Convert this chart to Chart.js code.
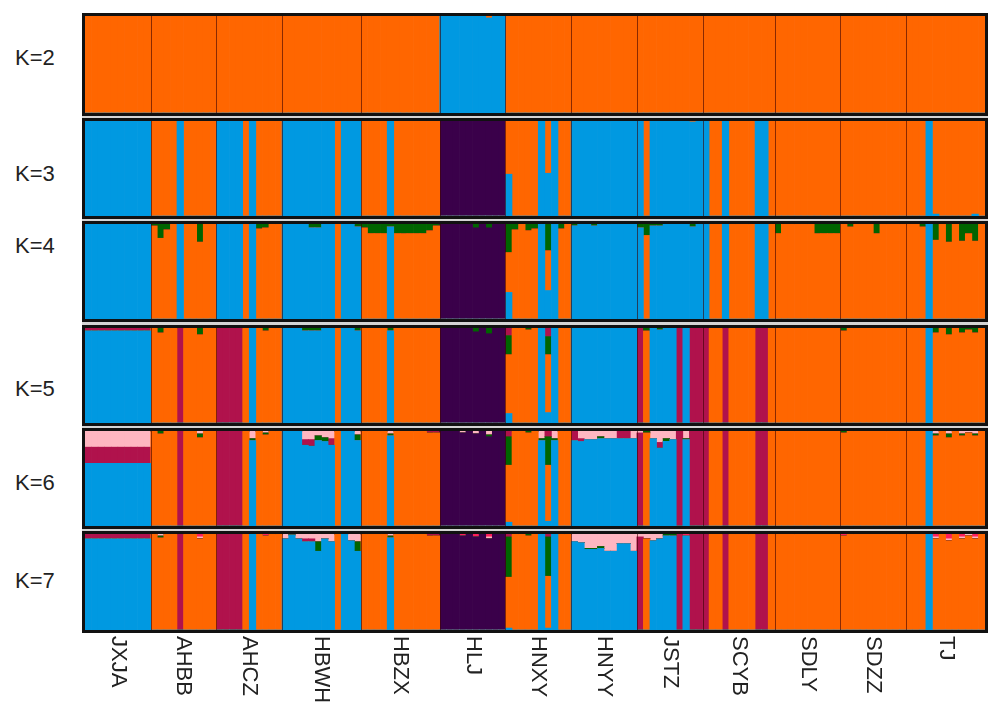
<!DOCTYPE html>
<html>
<head>
<meta charset="utf-8">
<script src="https://cdn.jsdelivr.net/npm/chart.js@4.4.0/dist/chart.umd.min.js"></script>
<style>
  html, body { margin: 0; padding: 0; background: #fff; }
  body { width: 997px; height: 716px; position: relative; overflow: hidden; font-family: 'Liberation Sans', Arial, sans-serif; }
  #backdrop { position: absolute; left: 82px; top: 13px; width: 906px; height: 620px; background: #d4d4d4; }
  .panel { position: absolute; left: 82px; width: 906px; }
  .klabel { position: absolute; left: 15px; font-size: 22px; line-height: 26px; color: #222; }
</style>
</head>
<body>
<div id="backdrop"></div>
<script>
// populations (left to right) and number of individuals in each
const popNames = ['JXJA', 'AHBB', 'AHCZ', 'HBWH', 'HBZX', 'HLJ', 'HNXY', 'HNYY', 'JSTZ', 'SCYB', 'SDLY', 'SDZZ', 'TJ'];
const popSizes = [10, 10, 10, 12, 12, 10, 10, 10, 10, 11, 10, 10, 12];

// cluster codes, bottom to top of each bar
const clusterOrder = ['B', 'O', 'P', 'G', 'C', 'L', 'R'];
const clusterColors = {
    B: '#0099e1', O: '#ff6600', P: '#3a004a', G: '#006400',
    C: '#b0124c', L: '#ffb6c1', R: '#ff1f5a'
};

// main cluster of every individual, one string per population
const k2Major = ['OOOOOOOOOO', 'OOOOOOOOOO', 'OOOOOOOOOO', 'OOOOOOOOOOOO', 'OOOOOOOOOOOO', 'BBBBBBBBBB',
    'OOOOOOOOOO', 'OOOOOOOOOO', 'OOOOOOOOOO', 'OOOOOOOOOOO', 'OOOOOOOOOO', 'OOOOOOOOOO', 'OOOOOOOOOOOO'];
const k3Major = ['BBBBBBBBBB', 'OOOOBOOOOO', 'BBBBOBOOOO', 'BBBBBBBBOBBB', 'OOOOBOOOOOOO', 'PPPPPPPPPP',
    'OOOOOBOBOO', 'BBBBBBBBBB', 'BOBBBBBBBB', 'BOOBOOOOBBO', 'OOOOOOOOOO', 'OOOOOOOOOO', 'OOOBOOOOOOOO'];
const k4Major = ['BBBBBBBBBB', 'OOOOBOOOOO', 'BBBBOBOOOO', 'BBBBBBBBOBBB', 'OOOOBOOOOOOO', 'PPPPPPPPPP',
    'OOOOOBOBOO', 'BBBBBBBBBB', 'BOBBBBBBBB', 'BOOBOOOOBBO', 'OOOOOOOOOO', 'OOOOOOOOOO', 'OOOBOOOOOOOO'];
const k5Major = ['BBBBBBBBBB', 'OOOOCOOOOO', 'CCCCOBOOOO', 'BBBBBBBBOBBB', 'OOOOBOOOOOOO', 'PPPPPPPPPP',
    'OOOOOBOBOO', 'BBBBBBBBBB', 'COBBBBCBCC', 'COOCOOOOCCO', 'OOOOOOOOOO', 'OOOOOOOOOO', 'OOOBOOOOOOOO'];
const k6Major = ['BBBBBBBBBB', 'OOOOCOOOOO', 'CCCCOBOOOO', 'BBBBBBBBOBBB', 'OOOOBOOOOOOO', 'PPPPPPPPPP',
    'OOOOOBOBOO', 'BBBBBBBBBB', 'COBBBBCBCC', 'COOCOOOOCCO', 'OOOOOOOOOO', 'OOOOOOOOOO', 'OOOBOOOOOOOO'];
const k7Major = ['BBBBBBBBBB', 'OOOOCOOOOO', 'CCCCOBOOOO', 'BBBBBBBBOBBB', 'OOOOBOOOOOOO', 'PPPPPPPPPP',
    'OOOOOBOBOO', 'BBBBBBBBBB', 'COBBBBCBCC', 'COOCOOOOCCO', 'OOOOOOOOOO', 'OOOOOOOOOO', 'OOOBOOOOOOOO'];

// admixture: [first individual, last individual, cluster, share]
const k2Mix = [[61, 61, 'O', 0.02]];
const k3Mix = [[64, 64, 'B', 0.44], [70, 70, 'B', 0.45], [92, 92, 'O', 0.01], [129, 129, 'B', 0.02], [135, 135, 'B', 0.02]];
const k4Mix = [
    [10, 10, 'G', 0.02], [11, 11, 'G', 0.15], [12, 12, 'G', 0.06], [17, 17, 'G', 0.19],
    [26, 26, 'G', 0.05], [27, 27, 'G', 0.04], [34, 35, 'G', 0.04], [41, 41, 'G', 0.03],
    [42, 42, 'G', 0.04], [43, 45, 'G', 0.1], [46, 46, 'G', 0.03], [47, 51, 'G', 0.1], [52, 52, 'G', 0.07], [53, 53, 'G', 0.02],
    [59, 59, 'G', 0.04], [61, 61, 'G', 0.04],
    [64, 64, 'G', 0.3], [64, 64, 'B', 0.28], [65, 65, 'G', 0.06], [67, 67, 'G', 0.07], [68, 68, 'G', 0.05],
    [70, 70, 'G', 0.28], [70, 70, 'B', 0.3], [72, 72, 'G', 0.05],
    [74, 74, 'G', 0.02], [77, 77, 'G', 0.02],
    [84, 84, 'G', 0.04], [85, 85, 'G', 0.12], [86, 87, 'G', 0.02], [92, 92, 'G', 0.03],
    [105, 105, 'G', 0.1], [111, 114, 'G', 0.1], [116, 116, 'G', 0.03], [120, 120, 'G', 0.1],
    [127, 127, 'G', 0.03], [129, 129, 'G', 0.17], [131, 131, 'G', 0.19], [133, 133, 'G', 0.18], [134, 134, 'G', 0.1], [135, 135, 'G', 0.18]
];
const k5Mix = [
    [0, 9, 'C', 0.03], [11, 11, 'G', 0.05], [17, 17, 'G', 0.07], [27, 27, 'G', 0.03],
    [33, 35, 'G', 0.03], [41, 41, 'G', 0.03], [46, 46, 'G', 0.03], [59, 59, 'G', 0.04], [61, 61, 'G', 0.06],
    [64, 64, 'C', 0.08], [64, 64, 'G', 0.2], [64, 64, 'B', 0.1], [67, 67, 'G', 0.02],
    [70, 70, 'C', 0.09], [70, 70, 'G', 0.19], [70, 70, 'B', 0.11],
    [85, 85, 'G', 0.03], [87, 87, 'G', 0.02], [115, 115, 'G', 0.03],
    [129, 129, 'G', 0.05], [131, 131, 'G', 0.07], [133, 133, 'G', 0.05], [134, 134, 'G', 0.02], [135, 135, 'G', 0.05]
];
const k6Mix = [
    [0, 9, 'L', 0.17], [0, 9, 'C', 0.17],
    [11, 11, 'G', 0.03], [17, 17, 'L', 0.03], [17, 17, 'G', 0.04],
    [25, 25, 'L', 0.08], [25, 25, 'G', 0.02], [27, 27, 'L', 0.02], [27, 27, 'G', 0.02],
    [33, 33, 'L', 0.09], [33, 33, 'C', 0.06], [34, 34, 'L', 0.09], [34, 34, 'C', 0.07],
    [35, 35, 'L', 0.05], [35, 35, 'G', 0.05], [36, 36, 'L', 0.07], [36, 36, 'G', 0.04],
    [37, 37, 'L', 0.08], [37, 37, 'C', 0.07], [41, 41, 'L', 0.04], [41, 41, 'G', 0.06],
    [46, 46, 'L', 0.03], [46, 46, 'G', 0.02], [52, 53, 'C', 0.02],
    [57, 57, 'L', 0.02], [59, 59, 'L', 0.03], [61, 61, 'L', 0.04], [61, 61, 'G', 0.02],
    [64, 64, 'C', 0.06], [64, 64, 'G', 0.3], [64, 64, 'B', 0.04], [67, 67, 'G', 0.02],
    [69, 69, 'L', 0.08], [69, 69, 'G', 0.02], [70, 70, 'C', 0.06], [70, 70, 'G', 0.3], [70, 70, 'B', 0.05],
    [71, 71, 'L', 0.08], [71, 71, 'G', 0.02],
    [74, 74, 'C', 0.1], [75, 75, 'L', 0.08], [75, 75, 'C', 0.03], [76, 77, 'L', 0.09],
    [78, 78, 'L', 0.06], [78, 78, 'G', 0.02], [79, 80, 'L', 0.08], [81, 82, 'C', 0.08], [83, 83, 'L', 0.08],
    [84, 84, 'L', 0.02], [85, 85, 'G', 0.02], [86, 86, 'L', 0.08], [87, 87, 'L', 0.12], [87, 87, 'C', 0.06],
    [88, 88, 'L', 0.08], [88, 88, 'G', 0.03], [89, 89, 'L', 0.09], [91, 91, 'L', 0.08], [91, 91, 'G', 0.01],
    [115, 115, 'G', 0.02],
    [129, 129, 'L', 0.03], [129, 129, 'G', 0.02], [131, 131, 'L', 0.03], [131, 131, 'G', 0.04],
    [133, 133, 'L', 0.03], [133, 133, 'G', 0.02], [134, 134, 'L', 0.02], [135, 135, 'L', 0.03], [135, 135, 'G', 0.02]
];
const k7Mix = [
    [0, 9, 'C', 0.05],
    [11, 11, 'L', 0.02], [11, 11, 'G', 0.02], [17, 17, 'R', 0.03], [17, 17, 'L', 0.02], [27, 27, 'R', 0.02],
    [30, 30, 'L', 0.05], [31, 31, 'G', 0.01], [32, 32, 'L', 0.05], [33, 34, 'L', 0.05], [33, 34, 'C', 0.03],
    [35, 35, 'L', 0.08], [35, 35, 'G', 0.1], [36, 36, 'L', 0.05], [37, 37, 'L', 0.08],
    [40, 40, 'L', 0.07], [41, 41, 'L', 0.08], [41, 41, 'G', 0.1],
    [46, 46, 'L', 0.02], [46, 46, 'G', 0.02], [52, 53, 'C', 0.02],
    [57, 57, 'R', 0.02], [59, 59, 'R', 0.03], [61, 61, 'R', 0.03], [61, 61, 'L', 0.02],
    [64, 64, 'C', 0.03], [64, 64, 'G', 0.42], [64, 64, 'B', 0.02], [67, 67, 'G', 0.02],
    [70, 70, 'C', 0.03], [70, 70, 'G', 0.41], [70, 70, 'B', 0.02],
    [74, 74, 'L', 0.08], [75, 75, 'L', 0.09], [76, 77, 'L', 0.15], [76, 77, 'G', 0.01],
    [78, 78, 'L', 0.13], [78, 78, 'G', 0.02], [79, 80, 'L', 0.18], [81, 82, 'L', 0.1], [83, 83, 'L', 0.18],
    [84, 84, 'L', 0.03], [85, 85, 'L', 0.05], [86, 86, 'L', 0.07], [87, 87, 'L', 0.05], [88, 89, 'G', 0.02], [91, 91, 'R', 0.02],
    [115, 115, 'R', 0.02],
    [129, 129, 'R', 0.03], [129, 129, 'L', 0.02], [131, 131, 'R', 0.05], [131, 131, 'L', 0.02],
    [133, 133, 'R', 0.03], [133, 133, 'L', 0.02], [134, 134, 'L', 0.02], [135, 135, 'R', 0.03], [135, 135, 'L', 0.02]
];

const kNames = ['K=2', 'K=3', 'K=4', 'K=5', 'K=6', 'K=7'];
const majors = [k2Major, k3Major, k4Major, k5Major, k6Major, k7Major];
const mixes = [k2Mix, k3Mix, k4Mix, k5Mix, k6Mix, k7Mix];

// page layout (outer box of each panel, and where its K label sits)
const panelTops = [13, 118, 221, 325, 428, 531];
const panelHeights = [103, 101, 101, 101, 101, 102];
const kLabelY = [57, 173, 245, 388, 482, 580];

const labels = [];
popNames.forEach((p, j) => {
    for (let i = 0; i < popSizes[j]; i++) labels.push(p + '_' + (i + 1));
});

function buildDatasets(major, mix) {
    const codes = major.join('');
    if (codes.length !== labels.length) console.error('length mismatch', codes.length);
    const rows = codes.split('').map(c => ({ [c]: 1 }));
    mix.forEach(([a, b, c, f]) => {
        for (let i = a; i <= b; i++) {
            rows[i][c] = (rows[i][c] || 0) + f;
            rows[i][codes[i]] -= f;
        }
    });
    const used = clusterOrder.filter(c => rows.some(r => r[c]));
    return used.map(c => ({
        label: c,
        data: rows.map(r => r[c] || 0),
        backgroundColor: clusterColors[c],
        borderWidth: 0,
        barPercentage: 1,
        categoryPercentage: 1
    }));
}

function framePlugin(withNames) {
    return {
        id: 'panelFrame',
        afterDatasetsDraw(chart) {
            const ctx = chart.ctx, x = chart.scales.x, a = chart.chartArea;
            ctx.save();
            // thin lines between populations
            ctx.strokeStyle = 'rgba(60,0,0,0.6)';
            ctx.lineWidth = 1;
            let s = 0;
            popSizes.forEach((sz, j) => {
                if (j > 0) {
                    const bx = Math.round((x.getPixelForValue(s - 1) + x.getPixelForValue(s)) / 2) + 0.5;
                    ctx.beginPath();
                    ctx.moveTo(bx, a.top);
                    ctx.lineTo(bx, a.bottom);
                    ctx.stroke();
                }
                s += sz;
            });
            ctx.strokeStyle = '#111';
            ctx.lineWidth = 3;
            ctx.strokeRect(a.left - 1.5, a.top - 1.5, a.width + 3, a.height + 3);
            if (withNames) {
                ctx.fillStyle = '#222';
                ctx.font = '22px "Liberation Sans", Arial, sans-serif';
                ctx.textAlign = 'left';
                ctx.textBaseline = 'middle';
                let st = 0;
                popSizes.forEach((sz, j) => {
                    const cx = (x.getPixelForValue(st) + x.getPixelForValue(st + sz - 1)) / 2;
                    ctx.save();
                    ctx.translate(cx, a.bottom + 6);
                    ctx.rotate(Math.PI / 2);
                    ctx.fillText(popNames[j], 0, 0);
                    ctx.restore();
                    st += sz;
                });
            }
            ctx.restore();
        }
    };
}

majors.forEach((major, k) => {
    const last = k === majors.length - 1;
    const div = document.createElement('div');
    div.className = 'panel';
    div.style.top = panelTops[k] + 'px';
    div.style.height = (last ? 716 - panelTops[k] : panelHeights[k]) + 'px';
    const canvas = document.createElement('canvas');
    div.appendChild(canvas);
    document.body.appendChild(div);

    const lab = document.createElement('div');
    lab.className = 'klabel';
    lab.style.top = (kLabelY[k] - 12) + 'px';
    lab.textContent = kNames[k];
    document.body.appendChild(lab);

    new Chart(canvas, {
        type: 'bar',
        data: { labels: labels, datasets: buildDatasets(major, mixes[k]) },
        options: {
            responsive: true,
            maintainAspectRatio: false,
            animation: false,
            layout: { padding: { left: 3, right: 3, top: 3, bottom: last ? 716 - panelTops[k] - panelHeights[k] + 3 : 3 } },
            plugins: { legend: { display: false }, tooltip: { enabled: false } },
            scales: {
                x: { display: false, stacked: true },
                y: { display: false, stacked: true, min: 0, max: 1 }
            }
        },
        plugins: [framePlugin(last)]
    });
});
</script>
</body>
</html>
